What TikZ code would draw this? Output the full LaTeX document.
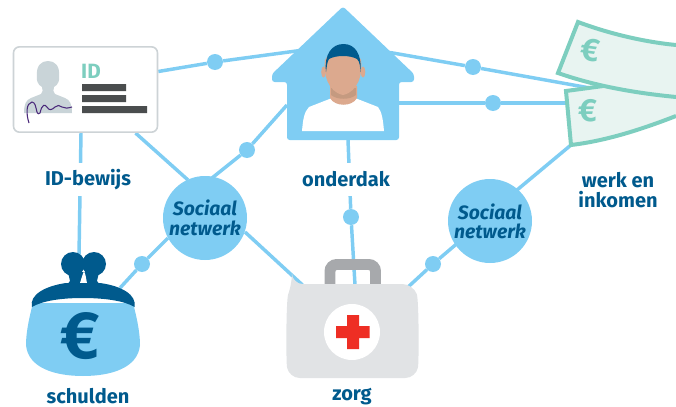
\documentclass[tikz,border=0pt]{standalone}
\usepackage{fontspec}
\setmainfont{Fira Sans}
\usetikzlibrary{backgrounds}
\definecolor{sky}{HTML}{7FCDF3}
\definecolor{navy}{HTML}{005A8D}
\definecolor{mint}{HTML}{7DCEBF}
\definecolor{paleMint}{HTML}{E8F4F1}
\definecolor{skin}{HTML}{DCA98E}
\definecolor{skinDark}{HTML}{C59A80}
\definecolor{silhouette}{HTML}{C9D4D8}
\definecolor{cardEdge}{HTML}{CDD3D6}
\definecolor{bar}{HTML}{4A4D4E}
\definecolor{kit}{HTML}{E1E3E5}
\definecolor{handle}{HTML}{A7A9AC}
\definecolor{crossRed}{HTML}{EE2E24}
\definecolor{inkPurple}{HTML}{4B2A7B}
\tikzset{
  link/.style={draw=sky,line width=2.6pt},
  dotnode/.style={circle,fill=sky,minimum size=12pt,inner sep=0pt},
  social/.style={circle,fill=sky,minimum size=63pt,inner sep=0pt,text=navy,align=center,
    font=\fontsize{14.5pt}{15.5pt}\selectfont\itshape\bfseries},
  lab/.style={text=navy,fill=white,align=center,inner sep=0pt,
    font=\fontsize{15pt}{15.5pt}\selectfont\bfseries},
  holder/.style={rectangle,inner sep=0pt,outer sep=0pt},
  euro/.style={font=\bfseries,inner sep=0pt},
}
\begin{document}
\begin{tikzpicture}[x=0.75pt,y=-0.75pt]
\useasboundingbox (0,0) rectangle (676,407);
% nodes
\node[holder,minimum width=84pt,minimum height=50pt] (house) at (343,73.5) {};
\node[holder,minimum width=85pt,minimum height=72pt] (purse) at (83,330) {};
\node[holder,minimum width=98pt,minimum height=90pt] (aid) at (352.5,319) {};
\node[holder,minimum width=88pt,minimum height=56pt] (noteup) at (617,60) {};
\node[holder,minimum width=82pt,minimum height=52pt] (notelow) at (621,110) {};
\node[social] (soca) at (205,218) {Sociaal\\[-1pt]netwerk};
\node[social] (socb) at (490,221) {Sociaal\\[-1pt]netwerk};
\node[dotnode] (d1) at (215,62) {};
\node[dotnode] (d2) at (473,67) {};
\node[dotnode] (d3) at (493,103) {};
\node[dotnode] (d4) at (247,150) {};
\node[dotnode] (d5) at (351,217) {};
\node[dotnode] (d6) at (142,264) {};
\node[dotnode] (d7) at (433,264) {};
\node[draw=cardEdge,fill=white,line width=1.2pt,rounded corners=4.5pt,minimum width=108pt,minimum height=64pt,inner sep=0pt] (card) at (85.5,89.5) {};
\node[lab,minimum height=24.5pt] (lid) at (88,179.5) {ID-bewijs};
\node[lab,minimum height=24.5pt] (lhome) at (346,179.5) {onderdak};
\node[lab] (lwork) at (618,190) {werk en\\inkomen};
\node[lab] (lpurse) at (88,396.5) {schulden};
\node[lab] (laid) at (352,396.5) {zorg};
% connectors
\begin{scope}[on background layer]
\draw[link] ([shift={(0,-18)}]card.east) -- (d1) -- ([shift={(-43,-23)}]house.center);
\draw[link] ([shift={(47,-21)}]house.center) -- (d2) -- ([shift={(-27,28)}]noteup.center);
\draw[link] ([shift={(56,29.5)}]house.center) -- (d3) -- ([shift={(-50,-7)}]notelow.center);
\draw[link] ([shift={(-56,31.5)}]house.center) -- (d4) -- ([shift={(-18,-20)}]soca.center);
\draw[link] ([shift={(50,43.5)}]card.center) -- ([shift={(-17,-38)}]soca.center);
\draw[link] ([shift={(-4.5,43.5)}]card.center) -- ([shift={(-4,-75)}]purse.center);
\draw[link] ([shift={(-37,20)}]soca.center) -- (d6) -- ([shift={(37,-42)}]purse.center);
\draw[link] ([shift={(40,14)}]soca.center) -- ([shift={(-50,-34)}]aid.center);
\draw[link] ([shift={(5,66)}]house.center) -- (d5) -- ([shift={(2.5,-34)}]aid.center);
\draw[link] ([shift={(-30,20)}]socb.center) -- (d7) -- ([shift={(54.5,-31)}]aid.center);
\draw[link] ([shift={(27,-31)}]socb.center) -- ([shift={(-50,35)}]notelow.center);
\end{scope}
% id card artwork
\fill[silhouette] (24,113) .. controls (24,104) and (26,100) .. (31,98) -- (41,94)
  .. controls (43,92) and (43,90) .. (42,87)
  .. controls (38,85) and (36,80) .. (37,76)
  .. controls (36,66) and (41,61) .. (48,61)
  .. controls (55,61) and (60,66) .. (59,76)
  .. controls (60,80) and (58,85) .. (54,87)
  .. controls (53,90) and (53,92) .. (55,94) -- (65,98)
  .. controls (70,100) and (72,104) .. (72,113) -- cycle;
\draw[inkPurple,line width=0.8pt] (29,123) .. controls (26,114) and (26,103) .. (32,102)
  .. controls (38,103) and (35,117) .. (40,113)
  .. controls (42,104) and (45,104) .. (47,107)
  .. controls (49,111) and (52,110) .. (55,107)
  .. controls (57,105) and (60,105) .. (62,107)
  .. controls (65,109) and (68,108) .. (72,107);
\node[text=mint,inner sep=0pt,font=\fontsize{15.5pt}{15.5pt}\selectfont\bfseries] (idtag) at (91,71) {ID};
\fill[bar] (82,84) rectangle (126,91) (82,95) rectangle (126,102) (82,106) rectangle (147,113);
% house artwork
\fill[sky,rounded corners=2pt] (343,6.5) -- (414,74) -- (414,82) -- (399,82) -- (399,140) -- (287,140) -- (287,82) -- (272,82) -- (272,74) -- cycle;
\fill[white] (302,131) .. controls (303,120) and (304,112) .. (309,107) -- (332,98) -- (355,98) -- (378,107)
  .. controls (382,112) and (383,120) .. (384,131) -- cycle;
\fill[skin] (330,86) -- (357,86) -- (357,98) .. controls (352,107) and (335,107) .. (330,98) -- cycle;
\fill[skinDark] (331,88) -- (356,88) -- (356,95) .. controls (350,100) and (337,100) .. (331,95) -- cycle;
\fill[skin] (323.5,72) ellipse [x radius=2.3,y radius=5.5];
\fill[skin] (363,72) ellipse [x radius=2.3,y radius=5.5];
\fill[skin] (325,60) .. controls (325,52) and (361,52) .. (361,60)
  .. controls (363,74) and (358,92) .. (343,95)
  .. controls (328,92) and (323,74) .. (325,60) -- cycle;
\fill[navy] (326,72) .. controls (324,54) and (332,44) .. (343.5,44)
  .. controls (355,44) and (362,54) .. (360.5,72)
  .. controls (360,66) and (360,62) .. (357,59)
  .. controls (350,55) and (336,55) .. (329,59)
  .. controls (327,62) and (327,66) .. (326,72) -- cycle;
% banknotes
\fill[paleMint] (566,91) -- (640,80) -- (676,80) -- (676,116) .. controls (640,130) and (605,141) .. (571,145) -- cycle;
\draw[mint,line width=3pt] (607,85.5) -- (566,91) -- (571,145) .. controls (605,141) and (640,130) .. (676,116);
\node[euro,text=mint,font=\fontsize{24pt}{24pt}\selectfont\bfseries] (eurolow) at (588,111) {€};
\fill[paleMint] (578,22) .. controls (610,34) and (645,42) .. (676,45) -- (676,97) .. controls (635,93) and (595,86) .. (558,73) -- cycle;
\draw[mint,line width=3pt] (676,45) .. controls (645,42) and (610,34) .. (578,22) -- (558,73) .. controls (595,86) and (635,93) .. (676,97);
\node[euro,text=mint,rotate=-8,font=\fontsize{24pt}{24pt}\selectfont\bfseries] (euroup) at (590,50) {€};
% purse artwork
\fill[sky] (33,303) .. controls (28,322) and (26,335) .. (26,345)
  .. controls (28,368) and (55,376) .. (83,376)
  .. controls (111,376) and (138,368) .. (140,345)
  .. controls (140,335) and (138,322) .. (133,303) -- cycle;
\fill[navy] (73,264) circle [radius=12];
\fill[navy] (94,264) circle [radius=12];
\fill[navy] (68,272) -- (99,272) -- (97,281) -- (101,286) -- (66,286) -- (70,281) -- cycle;
\fill[white] (84,271) .. controls (82,276) and (81,280) .. (80,283) -- (87,283) .. controls (86,279) and (86,275) .. (84,271) -- cycle;
\fill[navy] (32,307) .. controls (29,295) and (45,286) .. (66,283)
  -- (100,283) .. controls (122,286) and (137,295) .. (134.5,307)
  .. controls (125,301) and (105,298) .. (83,298)
  .. controls (60,298) and (42,301) .. (32,307) -- cycle;
\node[euro,text=navy,font=\fontsize{50pt}{50pt}\selectfont\bfseries] (europurse) at (80,336) {€};
% first-aid case artwork
\draw[handle,line width=8.2pt,rounded corners=5pt] (330,290) -- (330,264.5) -- (375.5,264.5) -- (375.5,290);
\fill[kit,rounded corners=8pt] (292,284) -- (413,284) .. controls (419,300) and (419,362) .. (416,378) -- (289,378) .. controls (286,362) and (286,300) .. (292,284) -- cycle;
\fill[white] (352,332) circle [radius=28];
\fill[crossRed] (347,315) -- (359,315) -- (359,326) -- (369.5,326) -- (369.5,338) -- (359,338) -- (359,349) -- (347,349) -- (347,338) -- (336,338) -- (336,326) -- (347,326) -- cycle;
\end{tikzpicture}
\end{document}
